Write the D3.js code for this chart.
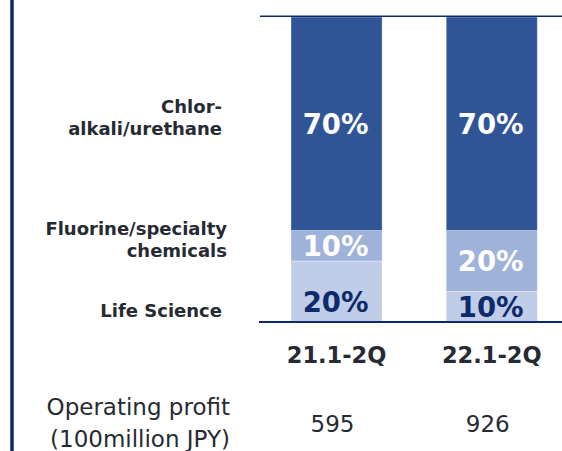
<!DOCTYPE html>
<html>
<head>
<meta charset="utf-8">
<script src="https://cdn.jsdelivr.net/npm/d3@7"></script>
<style>
  html, body { margin: 0; padding: 0; background: #fff; }
  svg { display: block; }
  text { font-family: "DejaVu Sans", Verdana, sans-serif; }
</style>
</head>
<body>
<svg id="chart" width="562" height="451"></svg>
<script>
// ---- data ----
const categories = ["21.1-2Q", "22.1-2Q"];
const segments = ["Life Science", "Fluorine/specialty chemicals", "Chlor-alkali/urethane"];
const lifeScience = [20, 10];
const fluorine = [10, 20];
const chlorAlkali = [70, 70];
const operatingProfit = [595, 926];
const segmentLabelLines = [["Life Science"], ["Fluorine/specialty", "chemicals"], ["Chlor-", "alkali/urethane"]];
const profitLabelLines = ["Operating profit", "(100million JPY)"];

// ---- layout ----
const W = 562, H = 451;
const svg = d3.select("#chart");
const navy = "#0c2a6b";
const textColor = "#262a33";
const segColors = ["#bfcde8", "#9fb2da", "#2f5597"];
const labelColors = ["#0d2a6b", "#ffffff", "#ffffff"];

const x = d3.scaleBand().domain(categories).range([291, 537.3]).paddingInner(0.413).paddingOuter(0);
const y = d3.scaleLinear().domain([0, 100]).range([322, 17]);

const rows = categories.map((c, i) => ({ cat: c, "Life Science": lifeScience[i], "Fluorine/specialty chemicals": fluorine[i], "Chlor-alkali/urethane": chlorAlkali[i] }));
const stack = d3.stack().keys(segments)(rows);

// bars
stack.forEach((layer, li) => {
  const g = svg.append("g");
  g.selectAll("rect").data(layer).enter().append("rect")
    .attr("x", d => x(d.data.cat))
    .attr("width", x.bandwidth())
    .attr("y", d => y(d[1]))
    .attr("height", d => y(d[0]) - y(d[1]))
    .attr("fill", segColors[li])
    .attr("stroke", "#ffffff")
    .attr("stroke-opacity", 0.45)
    .attr("stroke-width", 0.8);
  g.selectAll("text").data(layer).enter().append("text")
    .attr("x", d => x(d.data.cat) + x.bandwidth() / 2 - 1)
    .attr("y", d => {
      const c = (y(d[0]) + y(d[1])) / 2;
      return (li === 0 ? Math.max(c, y(d[0]) - 20) : c);
    })
    .attr("dy", "0.36em")
    .attr("text-anchor", "middle")
    .attr("font-size", 27.5)
    .attr("font-weight", "bold")
    .attr("fill", labelColors[li])
    .text(d => (d[1] - d[0]) + "%");
});

// top and bottom lines
svg.append("line").attr("x1", 260).attr("x2", W).attr("y1", y(100) - 0.7).attr("y2", y(100) - 0.7)
  .attr("stroke", navy).attr("stroke-width", 1.6);
svg.append("line").attr("x1", 259).attr("x2", W).attr("y1", y(0)).attr("y2", y(0))
  .attr("stroke", navy).attr("stroke-width", 2);

// left vertical line
svg.append("line").attr("x1", 12).attr("x2", 12).attr("y1", 0).attr("y2", H)
  .attr("stroke", navy).attr("stroke-width", 3.5);

// x axis (category labels)
const xAxis = d3.axisBottom(x).tickSize(0).tickPadding(0);
const ax = svg.append("g").attr("transform", "translate(0,347.5)").call(xAxis);
ax.select(".domain").remove();
ax.selectAll("text").attr("font-size", 22.5).attr("font-weight", "bold").attr("fill", textColor)
  .attr("dy", "0.71em").style("font-family", '"DejaVu Sans", Verdana, sans-serif');

// segment labels on the left
const segLabelBaselines = [[316.7], [235, 256.7], [113.3, 135]];
const segLabelRight = [222, 227, 222];
segmentLabelLines.forEach((lines, i) => {
  const t = svg.append("text").attr("text-anchor", "end").attr("font-size", 18)
    .attr("font-weight", "bold").attr("fill", textColor);
  lines.forEach((ln, j) => {
    t.append("tspan").attr("x", segLabelRight[i]).attr("y", segLabelBaselines[i][j]).text(ln);
  });
});

// operating profit label
const opT = svg.append("text").attr("text-anchor", "end").attr("font-size", 23).attr("fill", textColor);
profitLabelLines.forEach((ln, j) => {
  opT.append("tspan").attr("x", 230).attr("y", 415 + j * 31.5).text(ln);
});

// operating profit values
svg.append("g").selectAll("text").data(categories).enter().append("text")
  .attr("x", (d) => x(d) + x.bandwidth() / 2 - 4)
  .attr("y", 431.5)
  .attr("text-anchor", "middle")
  .attr("font-size", 23)
  .attr("fill", textColor)
  .text((d, i) => operatingProfit[i]);
</script>
</body>
</html>
